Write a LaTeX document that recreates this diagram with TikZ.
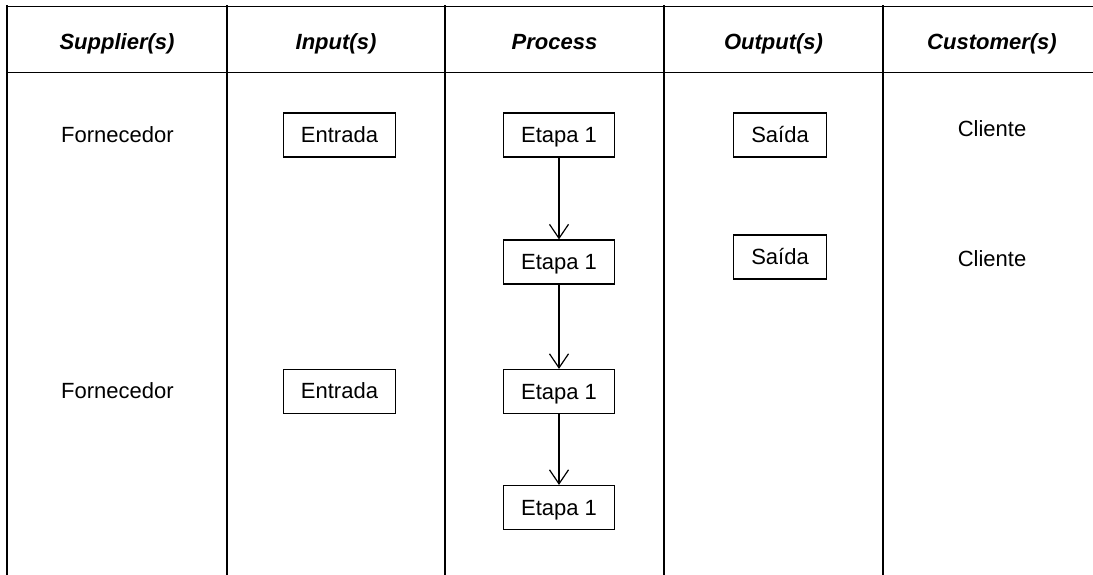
\documentclass[tikz,border=0pt]{standalone}
\usepackage{fontspec}
\setmainfont{Liberation Sans}
\usetikzlibrary{arrows.meta}

\tikzset{
  grid/.style={line width=1.5pt, black},
  hdr/.style={anchor=base, font=\fontsize{22}{26}\selectfont\bfseries\itshape, inner sep=0pt},
  lbl/.style={anchor=base, font=\fontsize{22}{26}\selectfont, inner sep=0pt},
  stepbox/.style={draw, line width=1.2pt, font=\fontsize{22}{26}\selectfont,
    minimum height=44pt, inner xsep=17.4pt, inner ysep=0pt,
    text height=15pt, text depth=0pt},
  flow/.style={line width=1.2pt, -{Straight Barb[length=14pt, width=19pt, line width=1.2pt]}}
}

\begin{document}
\begin{tikzpicture}[x=1pt, y=-1pt]
  \useasboundingbox (0,0) rectangle (1093,575);

  % table frame
  \draw[grid] (7,6.7) -- (1093,6.7);
  \draw[grid] (7,72.7) -- (1093,72.7);
  \foreach \cx in {7,227,445,664,883}
    \draw[grid] (\cx,5.5) -- (\cx,575);

  % column headings
  \node[hdr] (hs) at (117,49.3) {Supplier(s)};
  \node[hdr] (hi) at (336,49.3) {Input(s)};
  \node[hdr] (hp) at (554.5,49.3) {Process};
  \node[hdr] (ho) at (773.5,49.3) {Output(s)};
  \node[hdr] (hc) at (992,49.3) {Customer(s)};

  % suppliers
  \node[lbl] (f1) at (117.5,142.3) {Fornecedor};
  \node[lbl] (f2) at (117.5,398.6) {Fornecedor};

  % inputs
  \node[stepbox] (i1) at (339.5,135) {Entrada};
  \node[stepbox] (i2) at (339.5,391.3) {Entrada};

  % process steps
  \node[stepbox] (p1) at (559,135) {Etapa 1};
  \node[stepbox] (p2) at (559,262) {Etapa 1};
  \node[stepbox] (p3) at (559,391.5) {Etapa 1};
  \node[stepbox] (p4) at (559,507.5) {Etapa 1};

  % outputs
  \node[stepbox] (o1) at (780,135) {Saída};
  \node[stepbox] (o2) at (780,257) {Saída};

  % customers
  \node[lbl] (c1) at (992,137) {Cliente};
  \node[lbl] (c2) at (992,266) {Cliente};

  % process flow
  \draw[flow] (p1) -- (p2);
  \draw[flow] (p2) -- (p3);
  \draw[flow] (p3) -- (p4);
\end{tikzpicture}
\end{document}
